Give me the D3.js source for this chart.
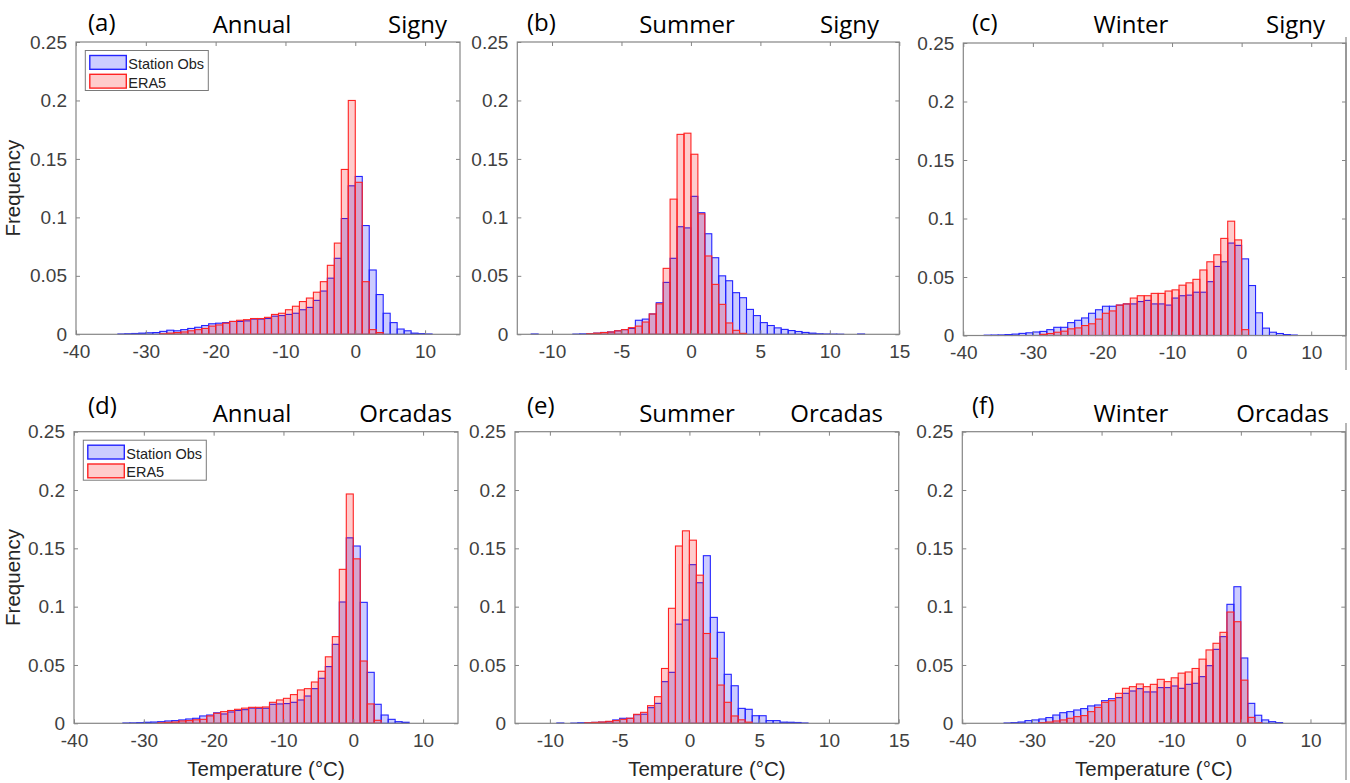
<!DOCTYPE html>
<html>
<head>
<meta charset="utf-8">
<script src="https://cdn.jsdelivr.net/npm/d3@7"></script>
<style>
body { margin: 0; background: #fff; }
svg { display: block; }
</style>
</head>
<body>
<script>
var width = 1350;
var height = 783;

// y axis
var yTicks = [0, 0.05, 0.1, 0.15, 0.2, 0.25];
var yTickLabels = ['0', '0.05', '0.1', '0.15', '0.2', '0.25'];
var annualTicks = [-40, -30, -20, -10, 0, 10];
var summerTicks = [-10, -5, 0, 5, 10, 15];

var seriesNames = ['Station Obs', 'ERA5'];

// Signy, annual: 1 degC bins from -34
var signyAnnualObs = [0.0003, 0.0005, 0.0007, 0.001, 0.0013, 0.0015, 0.0025, 0.0035, 0.003, 0.004,
  0.005, 0.006, 0.0075, 0.009, 0.0095, 0.010, 0.011, 0.011, 0.0115, 0.013,
  0.013, 0.0135, 0.0155, 0.016, 0.017, 0.018, 0.021, 0.023, 0.029, 0.037,
  0.048, 0.065, 0.099, 0.127, 0.135, 0.093, 0.055, 0.034, 0.018, 0.010,
  0.0045, 0.003, 0.001, 0.0006, 0.0003];
var signyAnnualEra5 = [0, 0, 0, 0, 0, 0, 0.0005, 0.001, 0.0015, 0.002,
  0.003, 0.004, 0.005, 0.007, 0.008, 0.0095, 0.011, 0.012, 0.0125, 0.0135,
  0.0135, 0.0145, 0.017, 0.018, 0.021, 0.024, 0.028, 0.031, 0.036, 0.045,
  0.059, 0.078, 0.141, 0.200, 0.130, 0.045, 0.004, 0.0015, 0, 0,
  0, 0, 0, 0, 0];

// Signy, summer: 0.5 degC bins from -11.5
var signySummerObs = [0.0003, 0, 0, 0, 0, 0, 0.0002, 0.0004, 0.0006, 0.001,
  0.0016, 0.002, 0.003, 0.004, 0.005, 0.012, 0.013, 0.0174, 0.027, 0.0444,
  0.065, 0.092, 0.091, 0.118, 0.104, 0.086, 0.0655, 0.050, 0.0458, 0.0356,
  0.0313, 0.0213, 0.016, 0.010, 0.0075, 0.0055, 0.0042, 0.0032, 0.0024, 0.0016,
  0.001, 0.0005, 0.0003, 0.0002, 0.0001, 0, 0, 0.0003];
var signySummerEra5 = [0, 0, 0, 0, 0, 0, 0, 0, 0.0005, 0.001,
  0.0015, 0.002, 0.003, 0.004, 0.0057, 0.007, 0.0105, 0.0174, 0.026, 0.0564,
  0.1156, 0.171, 0.172, 0.154, 0.103, 0.067, 0.0427, 0.0256, 0.0097, 0.0034,
  0.0008, 0, 0, 0, 0, 0, 0, 0, 0, 0,
  0, 0, 0, 0, 0, 0, 0, 0];

// Signy, winter: 1 degC bins from -37
var signyWinterObs = [0.0003, 0.0004, 0.0005, 0.0008, 0.0012, 0.0018, 0.0023, 0.003, 0.0035, 0.005,
  0.007, 0.007, 0.011, 0.013, 0.015, 0.019, 0.022, 0.025, 0.025, 0.026,
  0.027, 0.027, 0.029, 0.030, 0.027, 0.027, 0.026, 0.032, 0.034, 0.0345,
  0.037, 0.037, 0.046, 0.059, 0.063, 0.079, 0.077, 0.0655, 0.0427, 0.0194,
  0.0063, 0.0028, 0.0017, 0.0008, 0.0004];
var signyWinterEra5 = [0, 0, 0, 0, 0, 0, 0, 0, 0.001, 0.0017,
  0.0028, 0.0037, 0.0057, 0.0065, 0.0085, 0.010, 0.014, 0.019, 0.021, 0.026,
  0.027, 0.032, 0.034, 0.034, 0.036, 0.036, 0.038, 0.039, 0.043, 0.045,
  0.048, 0.056, 0.063, 0.069, 0.083, 0.0977, 0.0817, 0.005, 0, 0,
  0, 0, 0, 0, 0];

// Orcadas, annual: 1 degC bins from -33
var orcadasAnnualObs = [0.0003, 0.0004, 0.0006, 0.0009, 0.0011, 0.0014, 0.002, 0.0023, 0.0029, 0.0037,
  0.0043, 0.0063, 0.0071, 0.009, 0.008, 0.0097, 0.011, 0.0117, 0.013, 0.0129,
  0.0129, 0.0163, 0.0166, 0.0169, 0.018, 0.020, 0.0234, 0.0297, 0.0386, 0.0486,
  0.0677, 0.104, 0.159, 0.152, 0.1037, 0.0437, 0.0163, 0.0071, 0.0034, 0.0014,
  0.0009];
var orcadasAnnualEra5 = [0, 0, 0, 0, 0, 0.0005, 0.0008, 0.0011, 0.002, 0.0023,
  0.003, 0.0034, 0.0063, 0.0086, 0.010, 0.011, 0.012, 0.013, 0.0137, 0.0137,
  0.014, 0.018, 0.020, 0.0214, 0.0246, 0.0286, 0.0297, 0.0354, 0.0446, 0.057,
  0.0743, 0.132, 0.1966, 0.141, 0.0534, 0.0166, 0.0026, 0, 0, 0,
  0];

// Orcadas, summer: 0.5 degC bins from -9.5
var orcadasSummerObs = [0.0003, 0, 0.0002, 0.0005, 0.0006, 0.0008, 0.001, 0.0014, 0.0029, 0.0043,
  0.0043, 0.0074, 0.0078, 0.0134, 0.0171, 0.0357, 0.0437, 0.085, 0.0886, 0.136,
  0.1205, 0.1437, 0.0908, 0.078, 0.042, 0.0322, 0.0128, 0.012, 0.0065, 0.0065,
  0.0023, 0.0023, 0.001, 0.0009, 0.0007, 0.0003];
var orcadasSummerEra5 = [0, 0, 0, 0, 0.0005, 0.0008, 0.0011, 0.0017, 0.0023, 0.0034,
  0.0043, 0.0077, 0.0094, 0.0151, 0.0228, 0.047, 0.0986, 0.152, 0.165, 0.157,
  0.127, 0.077, 0.0557, 0.0328, 0.018, 0.0063, 0.003, 0.001, 0, 0,
  0, 0, 0, 0, 0, 0];

// Orcadas, winter: 1 degC bins from -34
var orcadasWinterObs = [0.0003, 0.0006, 0.0011, 0.0023, 0.0029, 0.0037, 0.0049, 0.0071, 0.0091, 0.010,
  0.0114, 0.0126, 0.0149, 0.0157, 0.0194, 0.0211, 0.022, 0.0257, 0.0277, 0.0297,
  0.0269, 0.0269, 0.0306, 0.0306, 0.032, 0.030, 0.0334, 0.0343, 0.040, 0.0494,
  0.0634, 0.0743, 0.102, 0.1171, 0.056, 0.0171, 0.0069, 0.0029, 0.0014, 0.0006];
var orcadasWinterEra5 = [0, 0, 0, 0, 0, 0.0006, 0.0011, 0.002, 0.0029, 0.0043,
  0.0057, 0.0066, 0.010, 0.0137, 0.018, 0.0194, 0.0257, 0.030, 0.0314, 0.0337,
  0.0314, 0.0334, 0.0377, 0.0357, 0.039, 0.043, 0.044, 0.047, 0.055, 0.0629,
  0.0686, 0.078, 0.0954, 0.0871, 0.037, 0.0051, 0.0005, 0, 0, 0];

var panels = [
  { tag: '(a)', season: 'Annual', station: 'Signy', left: 76, right: 460, top: 42, bottom: 334.3,
    domain: [-40, 15], ticks: annualTicks, start: -34, step: 1, obs: signyAnnualObs, era: signyAnnualEra5,
    legend: true, ylabel: true, xlabel: false, tagX: 88, seasonX: 252, stationX: 447, row: 0 },
  { tag: '(b)', season: 'Summer', station: 'Signy', left: 517.3, right: 899.3, top: 42, bottom: 334.3,
    domain: [-12.5, 15], ticks: summerTicks, start: -11.5, step: 0.5, obs: signySummerObs, era: signySummerEra5,
    legend: false, ylabel: false, xlabel: false, tagX: 527, seasonX: 687, stationX: 879, row: 0 },
  { tag: '(c)', season: 'Winter', station: 'Signy', left: 963.3, right: 1346, top: 43, bottom: 335.5,
    domain: [-40, 15], ticks: annualTicks, start: -37, step: 1, obs: signyWinterObs, era: signyWinterEra5,
    legend: false, ylabel: false, xlabel: false, tagX: 972, seasonX: 1131, stationX: 1325, row: 0 },
  { tag: '(d)', season: 'Annual', station: 'Orcadas', left: 74, right: 458, top: 431.7, bottom: 723.3,
    domain: [-40, 15], ticks: annualTicks, start: -33, step: 1, obs: orcadasAnnualObs, era: orcadasAnnualEra5,
    legend: true, ylabel: true, xlabel: true, tagX: 88, seasonX: 252, stationX: 452, row: 1 },
  { tag: '(e)', season: 'Summer', station: 'Orcadas', left: 515, right: 898.7, top: 431.7, bottom: 723.3,
    domain: [-12.5, 15], ticks: summerTicks, start: -9.5, step: 0.5, obs: orcadasSummerObs, era: orcadasSummerEra5,
    legend: false, ylabel: false, xlabel: true, tagX: 527, seasonX: 687, stationX: 883, row: 1 },
  { tag: '(f)', season: 'Winter', station: 'Orcadas', left: 962.3, right: 1345.3, top: 431.7, bottom: 723.3,
    domain: [-40, 15], ticks: annualTicks, start: -34, step: 1, obs: orcadasWinterObs, era: orcadasWinterEra5,
    legend: false, ylabel: false, xlabel: true, tagX: 972, seasonX: 1131, stationX: 1329, row: 1 }
];

var styles = [
  { fill: 'rgba(0,0,255,0.2)', stroke: 'rgb(35,35,255)' },
  { fill: 'rgba(255,0,0,0.2)', stroke: 'rgb(255,35,35)' }
];

var axisColor = '#858585';
var tickFont = '"Liberation Sans", Arial, sans-serif';
var titleFont = '"Open Sans", "Noto Sans", sans-serif';

var svg = d3.select('body').append('svg')
  .attr('width', width).attr('height', height)
  .attr('viewBox', [0, 0, width, height].join(' '));

svg.append('rect').attr('width', width).attr('height', height).attr('fill', '#fff');

panels.forEach(drawPanel);

// right frame line of the figure
svg.append('line').attr('x1', 1346).attr('x2', 1346).attr('y1', 37).attr('y2', 370)
  .attr('stroke', axisColor).attr('stroke-width', 1.2);
svg.append('line').attr('x1', 1346).attr('x2', 1346).attr('y1', 423).attr('y2', 780)
  .attr('stroke', axisColor).attr('stroke-width', 1.2);

function bins(p, values) {
  return values.map(function(v, i) {
    return { x0: p.start + i * p.step, x1: p.start + (i + 1) * p.step, v: v };
  }).filter(function(d) { return d.v > 0; });
}

function drawPanel(p) {
  var x = d3.scaleLinear().domain(p.domain).range([p.left, p.right]);
  var y = d3.scaleLinear().domain([0, 0.25]).range([p.bottom, p.top]);
  var g = svg.append('g');

  [p.obs, p.era].forEach(function(values, k) {
    g.append('g').selectAll('rect').data(bins(p, values)).enter().append('rect')
      .attr('x', function(d) { return x(d.x0); })
      .attr('width', function(d) { return x(d.x1) - x(d.x0); })
      .attr('y', function(d) { return y(d.v); })
      .attr('height', function(d) { return y(0) - y(d.v); })
      .attr('fill', styles[k].fill)
      .attr('stroke', styles[k].stroke)
      .attr('stroke-width', 1.1);
  });

  // axes, ticks inward on all four sides
  var bottomAxis = d3.axisBottom(x).tickValues(p.ticks).tickSizeInner(-4).tickSizeOuter(0).tickPadding(10)
    .tickFormat(function(d) { return String(d); });
  var topAxis = d3.axisTop(x).tickValues(p.ticks).tickSizeInner(-4).tickSizeOuter(0).tickFormat('');
  var leftAxis = d3.axisLeft(y).tickValues(yTicks).tickSizeInner(-4).tickSizeOuter(0).tickPadding(9)
    .tickFormat(function(d, i) { return yTickLabels[i]; });
  var rightAxis = d3.axisRight(y).tickValues(yTicks).tickSizeInner(-4).tickSizeOuter(0).tickFormat('');

  var axes = [
    [bottomAxis, 'translate(0,' + p.bottom + ')'],
    [topAxis, 'translate(0,' + p.top + ')'],
    [leftAxis, 'translate(' + p.left + ',0)'],
    [rightAxis, 'translate(' + p.right + ',0)']
  ];
  axes.forEach(function(a) {
    var ag = g.append('g').attr('transform', a[1]).call(a[0]);
    ag.select('.domain').remove();
    ag.selectAll('line').attr('stroke', axisColor);
    ag.selectAll('text').attr('font-family', tickFont).attr('font-size', 19).attr('fill', '#404040');
  });

  g.append('rect')
    .attr('x', p.left).attr('y', p.top)
    .attr('width', p.right - p.left).attr('height', p.bottom - p.top)
    .attr('fill', 'none').attr('stroke', axisColor).attr('stroke-width', 1.2);

  // titles
  var tagY = p.row === 0 ? 31 : 414;
  var titleY = p.row === 0 ? 33 : 422;
  g.append('text').attr('x', p.tagX).attr('y', tagY).text(p.tag)
    .attr('font-family', titleFont).attr('font-size', 24).attr('fill', '#000');
  g.append('text').attr('x', p.seasonX).attr('y', titleY).attr('text-anchor', 'middle').text(p.season)
    .attr('font-family', titleFont).attr('font-size', 24).attr('fill', '#000');
  g.append('text').attr('x', p.stationX).attr('y', titleY).attr('text-anchor', 'end').text(p.station)
    .attr('font-family', titleFont).attr('font-size', 24).attr('fill', '#000');

  if (p.ylabel) {
    g.append('text')
      .attr('transform', 'translate(20,' + (p.top + p.bottom) / 2 + ') rotate(-90)')
      .attr('text-anchor', 'middle').text('Frequency')
      .attr('font-family', tickFont).attr('font-size', 20.5).attr('fill', '#262626');
  }
  if (p.xlabel) {
    g.append('text')
      .attr('x', (p.left + p.right) / 2).attr('y', 776)
      .attr('text-anchor', 'middle').text('Temperature (°C)')
      .attr('font-family', tickFont).attr('font-size', 20.5).attr('fill', '#262626');
  }

  if (p.legend) {
    var lg = g.append('g').attr('transform', 'translate(' + (p.left + 9.3) + ',' + (p.top + 8.5) + ')');
    lg.append('rect').attr('width', 123).attr('height', 40)
      .attr('fill', '#fff').attr('stroke', '#7a7a7a').attr('stroke-width', 1);
    seriesNames.forEach(function(name, k) {
      lg.append('rect').attr('x', 4.5).attr('y', 5 + k * 18.8).attr('width', 36.5).attr('height', 13.8)
        .attr('fill', styles[k].fill).attr('stroke', styles[k].stroke).attr('stroke-width', 1.4);
      lg.append('text').attr('x', 43).attr('y', 18.5 + k * 18.8).text(name)
        .attr('font-family', tickFont).attr('font-size', 14.5).attr('fill', '#222');
    });
  }
}
</script>
</body>
</html>
